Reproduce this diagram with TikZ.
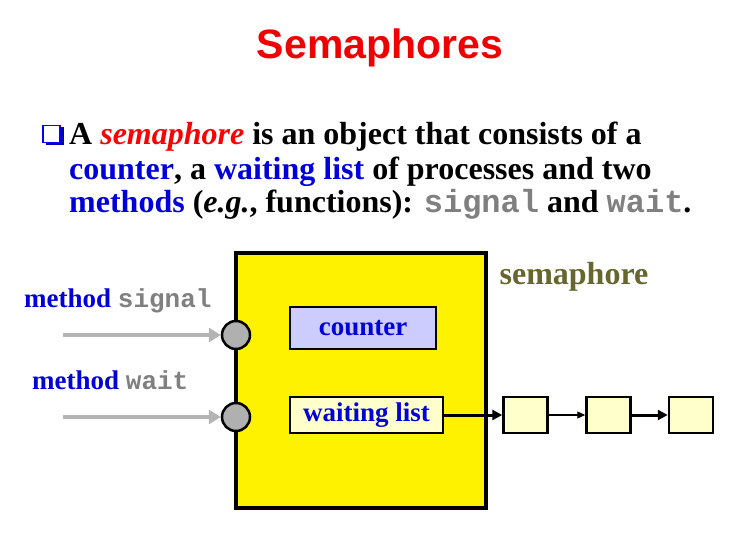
\documentclass[tikz,border=0pt]{standalone}
\usepackage{fontspec}
\setmainfont{Liberation Serif}
\setmonofont{Liberation Mono}
\newfontfamily\titlefont{Liberation Sans}
\usetikzlibrary{arrows.meta}
\definecolor{tred}{HTML}{F00000}
\definecolor{kblue}{HTML}{0000DD}
\definecolor{mgray}{HTML}{808080}
\definecolor{olivet}{HTML}{66662E}
\definecolor{cntfill}{HTML}{CCCCFF}
\definecolor{lstfill}{HTML}{FFFFCC}
\definecolor{portgray}{HTML}{B0B0B0}
\definecolor{arrgray}{HTML}{B4B4B4}
\tikzset{
  bodytext/.style={anchor=base west, inner sep=0pt, font=\fontsize{32}{36}\selectfont\bfseries},
  lbltext/.style={anchor=base west, inner sep=0pt, font=\fontsize{27}{30}\selectfont\bfseries},
  inbox/.style={draw=black, line width=2.5pt, inner sep=0pt, font=\fontsize{27}{30}\selectfont\bfseries, text=kblue},
  qbox/.style={draw=black, line width=2.5pt, fill=lstfill, minimum width=44pt, minimum height=36pt, inner sep=0pt},
  port/.style={circle, draw=black, line width=2.5pt, fill=portgray, minimum size=28pt, inner sep=0pt},
  inarrow/.style={draw=arrgray, line width=4pt, -{Triangle[length=12pt,width=14pt]}},
  larrow/.style={draw=black, line width=3pt, -{Triangle[length=10pt,width=10pt]}},
}
\newcommand{\monowd}[1]{{\fontsize{26}{30}\selectfont\ttfamily #1}}
\newcommand{\monobd}[1]{{\fontsize{32}{36}\selectfont\ttfamily #1}}
\begin{document}
\begin{tikzpicture}[x=1pt,y=-1pt]
\useasboundingbox (0,0) rectangle (750,548);
\fill[white] (0,0) rectangle (750,548);
% title
\node[anchor=base, inner sep=0pt, text=tred, font=\fontsize{41}{45}\selectfont\titlefont\bfseries] (title) at (380,59) {Semaphores};
% bullet
\draw[blue!70!black, line width=3pt] (45.5,144) -- (62,144) -- (62,127.5);
\node[draw=blue, fill=white, line width=1.5pt, minimum size=17pt, inner sep=0pt] (bullet) at (51.5,134) {};
\node[bodytext] (l1) at (69,145) {A \textcolor{red}{\itshape semaphore} is an object that consists of a};
\node[bodytext] (l2) at (69,180) {\textcolor{kblue}{counter}, a \textcolor{kblue}{waiting list} of processes and two};
\node[bodytext] (l3) at (69,213) {\textcolor{kblue}{methods} (\textit{e.g.}, functions): \textcolor{mgray}{\monobd{signal}} and \textcolor{mgray}{\monobd{wait}}.};
% semaphore box
\node[draw=black, line width=4pt, fill=yellow, minimum width=250pt, minimum height=255pt, inner sep=0pt] (sem) at (361,380.5) {};
\node[anchor=base, inner sep=0pt, text=olivet, font=\fontsize{32}{36}\selectfont\bfseries] (semlbl) at (574,284) {semaphore};
\node[inbox, fill=cntfill, minimum width=146pt, minimum height=42pt] (cnt) at (363,328) {counter};
\node[inbox, fill=lstfill, minimum width=153pt, minimum height=36pt] (wl) at (366.5,415) {waiting list};
% ports
\node[port] (p1) at (236,335) {};
\node[port] (p2) at (236,417) {};
\coordinate (s1) at (63,335);
\coordinate (s2) at (63,417);
\draw[inarrow] (s1) -- (p1.west);
\draw[inarrow] (s2) -- (p2.west);
\node[lbltext] (m1) at (24,307) {\textcolor{kblue}{method} \textcolor{mgray}{\monowd{signal}}};
\node[lbltext] (m2) at (32,389) {\textcolor{kblue}{method} \textcolor{mgray}{\monowd{wait}}};
% queue
\node[qbox] (q1) at (525.5,415) {};
\node[qbox] (q2) at (608.5,415) {};
\node[qbox] (q3) at (691,415) {};
\draw[larrow] (wl.east) -- (q1.west);
\draw[black, line width=1.2pt, -{Triangle[length=8pt,width=7pt]}] (q1.east) -- (q2.west);
\draw[larrow] (q2.east) -- (q3.west);
\end{tikzpicture}
\end{document}
